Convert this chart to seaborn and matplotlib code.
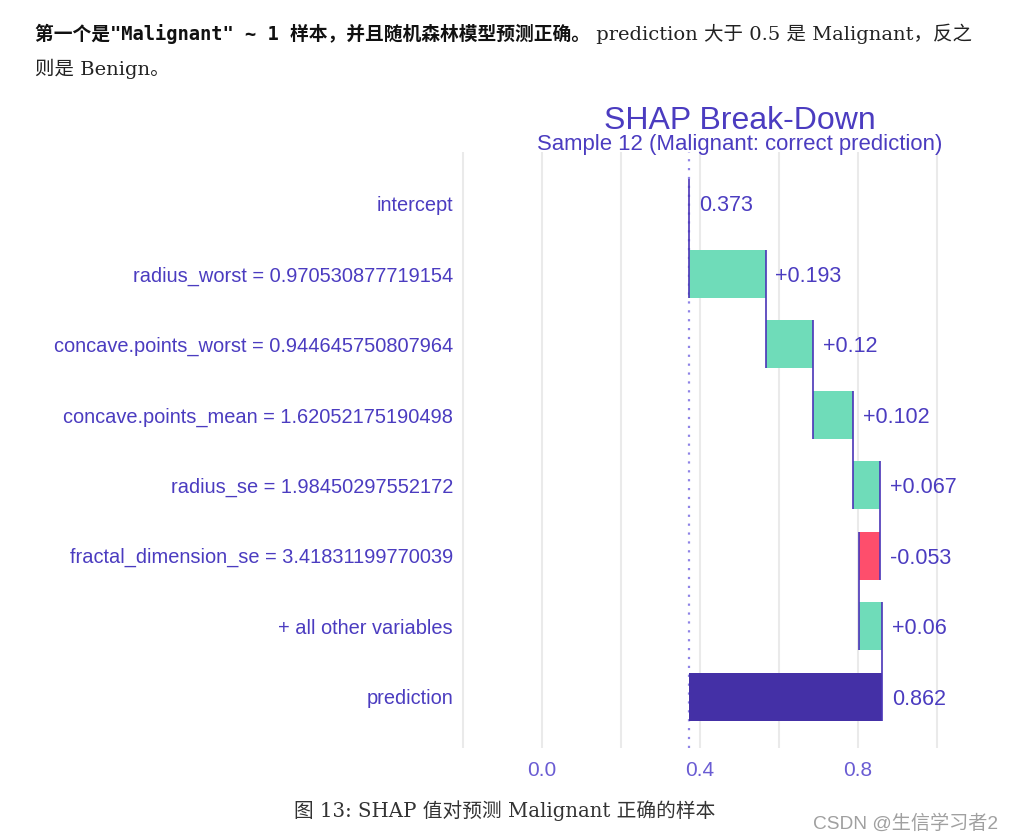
import matplotlib
matplotlib.use("Agg")
import matplotlib.pyplot as plt
import seaborn as sns
import numpy as np
import pandas as pd

# ---------------- data ----------------
variables = [
    "intercept",
    "radius_worst = 0.970530877719154",
    "concave.points_worst = 0.944645750807964",
    "concave.points_mean = 1.62052175190498",
    "radius_se = 1.98450297552172",
    "fractal_dimension_se = 3.41831199770039",
    "+ all other variables",
    "prediction",
]
contributions = [0.373, 0.193, 0.120, 0.102, 0.067, -0.053, 0.060, 0.862]
value_labels = ["0.373", "+0.193", "+0.12", "+0.102", "+0.067", "-0.053", "+0.06", "0.862"]
x_major = [0.0, 0.4, 0.8]
x_minor = [-0.2, 0.2, 0.6, 1.0]
x_major_labels = ["0.0", "0.4", "0.8"]

title = "SHAP Break-Down"
subtitle = "Sample 12 (Malignant: correct prediction)"
intro_bold = '第一个是"Malignant" ~ 1 样本，并且随机森林模型预测正确。'
intro_rest = ' prediction 大于 0.5 是 Malignant，反之'
intro_line2 = '则是 Benign。'
caption = '图 13: SHAP 值对预测 Malignant 正确的样本'
watermark = 'CSDN @生信学习者2'

# ---------------- build waterfall table ----------------
n = len(variables)
intercept = contributions[0]
starts, ends, kinds = [], [], []
cum = intercept
for i, v in enumerate(contributions):
    if i == 0:
        starts.append(intercept); ends.append(intercept); kinds.append("intercept")
    elif i == n - 1:
        starts.append(intercept); ends.append(v); kinds.append("prediction")
    else:
        starts.append(cum); ends.append(cum + v); kinds.append("pos" if v >= 0 else "neg")
        cum = cum + v
df = pd.DataFrame({"variable": variables, "start": starts, "end": ends,
                   "kind": kinds, "label": value_labels, "pos": np.arange(n)})
df["lo"] = df[["start", "end"]].min(axis=1)
df["hi"] = df[["start", "end"]].max(axis=1)

palette = {"pos": "#6fdcb9", "neg": "#fe4e6c", "prediction": "#4430a6", "intercept": "#4430a6"}
TXT = "#4b3cc0"
TICK = "#6a5cd3"
LINE = "#4a35b8"

# ---------------- figure ----------------
sns.set_theme(style="white")
plt.rcParams["font.family"] = ["Liberation Sans", "DejaVu Sans"]

W, H = 1012, 840
fig = plt.figure(figsize=(W / 100, H / 100), dpi=100)
fig.patch.set_facecolor("white")
ax = fig.add_axes([460 / W, 92 / H, 480 / W, 596 / H])

bar_h = 0.68
sub = df[df["kind"] != "intercept"]
ax.barh(sub["pos"], sub["end"] - sub["start"], left=sub["start"], height=bar_h,
        color=[palette[k] for k in sub["kind"]], edgecolor="none", zorder=3)

# connectors
for i in range(n - 1):
    ax.vlines(df["end"][i], i - bar_h / 2, i + 1 + bar_h / 2, color=LINE, lw=1.2, zorder=4)

# dotted intercept line
ax.axvline(intercept, color="#8f84e6", lw=1.6, linestyle=(0, (1, 3)), zorder=2)

# value labels
for _, r in df.iterrows():
    ax.text(r["hi"] + 0.025, r["pos"], r["label"], ha="left", va="center_baseline",
            fontsize=15.5, color=TXT, zorder=5)

ax.set_xlim(-0.2076, 1.0076)
ax.set_ylim(n - 1 + 0.73, -0.73)
ax.set_xticks(x_major)
ax.set_xticklabels(x_major_labels)
ax.set_xticks(x_minor, minor=True)
ax.set_yticks(df["pos"])
ax.set_yticklabels(df["variable"])
ax.grid(False)
ax.grid(True, axis="x", which="both", color="#eaeaea", lw=1.5, zorder=0)
ax.tick_params(axis="y", length=0, pad=5, labelsize=14.4, labelcolor=TXT)
ax.tick_params(axis="x", which="both", length=0, pad=9, labelsize=15, labelcolor=TICK)
sns.despine(ax=ax, left=True, bottom=True)
ax.set_facecolor("white")

# titles
fig.text(740 / W, 1 - 129 / H, title, ha="center", va="baseline", fontsize=23, color=TXT)
fig.text(740 / W, 1 - 150 / H, subtitle, ha="center", va="baseline", fontsize=15.9, color=TXT)

# surrounding document text
fig.canvas.draw()
rend = fig.canvas.get_renderer()

def put(x_px, y_px, s, **kw):
    t = fig.text(x_px / W, 1 - y_px / H, s, ha="left", va="baseline", **kw)
    bb = t.get_window_extent(renderer=rend)
    return x_px + bb.width

x = put(35, 40, intro_bold, fontsize=13.5, fontweight="bold", color="#111111",
        family=["DejaVu Sans Mono", "Noto Sans CJK SC"])
put(x, 40, intro_rest, fontsize=14, color="#222222",
    family=["DejaVu Serif", "Noto Sans CJK SC"])
put(35, 75, intro_line2, fontsize=14, color="#222222",
    family=["DejaVu Serif", "Noto Sans CJK SC"])

fig.text(505 / W, 1 - 817 / H, caption, ha="center", va="baseline", fontsize=14.2,
         color="#333333", family=["DejaVu Serif", "Noto Sans CJK SC"])
fig.text(998 / W, 1 - 829 / H, watermark, ha="right", va="baseline", fontsize=13.8,
         color="#a0a0a0", family=["Liberation Sans", "Noto Sans CJK SC"])

fig.savefig("out.png", dpi=100, facecolor="white")
